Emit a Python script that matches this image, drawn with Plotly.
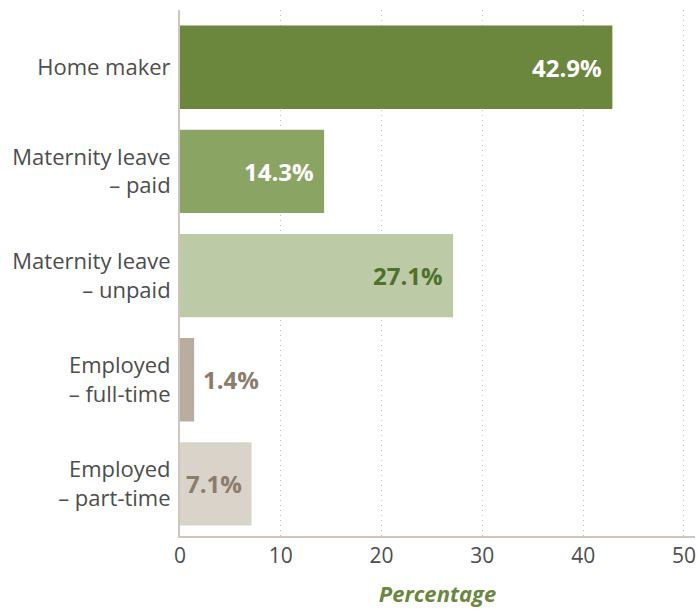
import plotly.graph_objects as go

categories = [
    "Home maker",
    "Maternity leave<br>– paid",
    "Maternity leave<br>– unpaid",
    "Employed<br>– full-time",
    "Employed<br>– part-time",
]
values = [42.9, 14.3, 27.1, 1.4, 7.1]
bar_colors = ["#6a873d", "#8aa463", "#bccaa6", "#b8ad9e", "#dad3c9"]
label_colors = ["#ffffff", "#ffffff", "#4f7129", "#8a7d6b", "#8a7d6b"]
label_inside = [True, True, True, False, True]
x_ticks = [0, 10, 20, 30, 40, 50]

FONT = "Open Sans"

fig = go.Figure(
    go.Bar(
        x=values,
        y=categories,
        orientation="h",
        marker=dict(color=bar_colors, line=dict(width=0)),
        width=0.8,
        hoverinfo="skip",
    )
)

for cat, val, col, inside in zip(categories, values, label_colors, label_inside):
    fig.add_annotation(
        x=val,
        y=cat,
        text=f"{val:.1f}%",
        showarrow=False,
        xanchor="right" if inside else "left",
        xshift=-8 if inside else 7,
        font=dict(family=FONT, size=24, color=col, weight="bold"),
    )

fig.update_layout(
    width=698,
    height=612,
    margin=dict(l=180, r=3, t=10, b=76),
    paper_bgcolor="white",
    plot_bgcolor="white",
    showlegend=False,
    font=dict(family=FONT, size=22, color="#4d4d4d"),
    xaxis=dict(
        range=[0, 51.1],
        tickvals=x_ticks,
        ticktext=[str(t) for t in x_ticks],
        showgrid=True,
        gridcolor="#bdbdbd",
        griddash="1px,4px",
        gridwidth=1,
        zeroline=False,
        showline=True,
        linecolor="#cfc6ba",
        linewidth=2,
        ticks="",
        tickfont=dict(family=FONT, size=21, color="#4d4d4d"),
        title=dict(
            text="Percentage",
            font=dict(family=FONT, size=22, color="#6a873d", style="italic", weight="bold"),
            standoff=18,
        ),
    ),
    yaxis=dict(
        categoryorder="array",
        categoryarray=categories,
        range=[4.5, -0.55],
        showgrid=False,
        zeroline=False,
        showline=True,
        linecolor="#cfc6ba",
        linewidth=2,
        ticks="",
        ticklabelstandoff=3,
        tickfont=dict(family=FONT, size=22, color="#4d4d4d"),
    ),
)

fig.write_html("out.html")
